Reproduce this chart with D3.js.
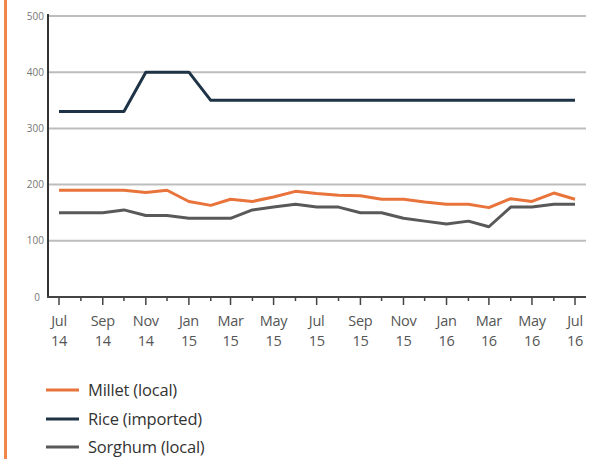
<!DOCTYPE html>
<html><head><meta charset="utf-8">
<script src="https://cdn.jsdelivr.net/npm/d3@7"></script>
<style>body{margin:0;background:#fff;}svg{display:block;font-family:"Open Sans",sans-serif;}</style>
</head><body>
<script>
const months = ["2014-07","2014-08","2014-09","2014-10","2014-11","2014-12","2015-01","2015-02","2015-03","2015-04","2015-05","2015-06","2015-07","2015-08","2015-09","2015-10","2015-11","2015-12","2016-01","2016-02","2016-03","2016-04","2016-05","2016-06","2016-07"];
const millet  = [190,190,190,190,186,190,170,163,174,170,178,188,184,181,180,174,174,169,165,165,159,175,170,185,174];
const rice    = [330,330,330,330,400,400,400,350,350,350,350,350,350,350,350,350,350,350,350,350,350,350,350,350,350];
const sorghum = [150,150,150,155,145,145,140,140,140,155,160,165,160,160,150,150,140,135,130,135,125,160,160,165,165];
const yTicks = [0,100,200,300,400,500];
const tickMonthLabels = ["Jul","Sep","Nov","Jan","Mar","May","Jul","Sep","Nov","Jan","Mar","May","Jul"];
const tickYearLabels  = ["14","14","14","15","15","15","15","15","15","16","16","16","16"];
const seriesNames = ["Millet (local)","Rice (imported)","Sorghum (local)"];
const seriesColors = ["#e8743b","#1e3446","#595959"];

const W=597,H=459;
const svg=d3.select("body").append("svg").attr("width",W).attr("height",H);
svg.append("rect").attr("x",4).attr("y",0).attr("width",3).attr("height",H).attr("fill","#f0874a");

const parse=d3.timeParse("%Y-%m");
const dates=months.map(parse);
const x=d3.scaleTime().domain([dates[0],dates[dates.length-1]]).range([59,575]);
const y=d3.scaleLinear().domain([0,500]).range([297,16]);

// gridlines
svg.append("g").selectAll("line").data(yTicks.filter(d=>d>0)).join("line")
  .attr("x1",49).attr("x2",586).attr("y1",d=>y(d)).attr("y2",d=>y(d))
  .attr("stroke","#bdbdbd").attr("stroke-width",2);

// y labels
svg.append("g").selectAll("text").data(yTicks).join("text")
  .attr("x",d=>d===0?40:44).attr("y",d=>y(d)).attr("dy","0.35em")
  .attr("text-anchor","end").attr("font-size",10).attr("fill","#777").text(d=>d);

// axes lines
svg.append("line").attr("x1",48).attr("x2",48).attr("y1",14).attr("y2",298).attr("stroke","#333").attr("stroke-width",2);
svg.append("line").attr("x1",47).attr("x2",586).attr("y1",297).attr("y2",297).attr("stroke","#444").attr("stroke-width",2);

// ticks
svg.append("g").selectAll("line").data(dates).join("line")
  .attr("x1",d=>x(d)).attr("x2",d=>x(d)).attr("y1",298)
  .attr("y2",(d,i)=>i%2===0?305:301).attr("stroke","#444").attr("stroke-width",1.5);

const major=dates.filter((d,i)=>i%2===0);
const xl=svg.append("g").attr("font-size",14.5).attr("fill","#555").attr("text-anchor","middle").attr("letter-spacing",-0.3);
xl.selectAll("text.m").data(major).join("text").attr("class","m")
  .attr("x",d=>x(d)).attr("y",326).text((d,i)=>tickMonthLabels[i]);
xl.selectAll("text.yr").data(major).join("text").attr("class","yr")
  .attr("x",d=>x(d)).attr("y",346).text((d,i)=>tickYearLabels[i]);

const line=d3.line().x((d,i)=>x(dates[i])).y(d=>y(d));
[millet,rice,sorghum].forEach((s,k)=>{
  svg.append("path").datum(s).attr("d",line).attr("fill","none")
    .attr("stroke",seriesColors[k]).attr("stroke-width",3).attr("stroke-linejoin","round");
});

// legend
const lg=svg.append("g");
[390,419,447].forEach((yy,k)=>{
  lg.append("line").attr("x1",46).attr("x2",79).attr("y1",yy).attr("y2",yy)
    .attr("stroke",seriesColors[k]).attr("stroke-width",3);
  lg.append("text").attr("x",88).attr("y",yy).attr("dy","0.35em").attr("font-size",16.5)
    .attr("fill","#333").attr("letter-spacing",-0.2).text(seriesNames[k]);
});
</script>
</body></html>
